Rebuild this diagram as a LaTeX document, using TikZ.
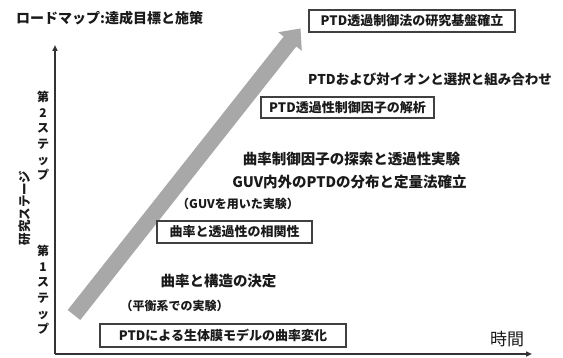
\documentclass[tikz,border=0pt]{standalone}
\usepackage{fontspec}
\setmainfont{Noto Sans CJK JP}
\usetikzlibrary{arrows.meta}
\definecolor{axisgray}{HTML}{333333}
\definecolor{arrowgray}{HTML}{A8A8A8}
\definecolor{boxline}{HTML}{404040}
\definecolor{txt}{HTML}{1A1A1A}
\begin{document}
\begin{tikzpicture}[x=1pt,y=-1pt,
  boxnode/.style={draw=boxline, fill=white, line width=1.1pt, inner sep=0pt, minimum height=22pt, text=txt, font=\bfseries\fontsize{13}{14}\selectfont},
  maintext/.style={text=txt, font=\bfseries\fontsize{14.5}{16}\selectfont},
  subtext/.style={text=txt, font=\bfseries\fontsize{12}{14}\selectfont},
  vlabel/.style={text=txt, align=center, font=\bfseries\fontsize{12}{15.6}\selectfont, inner sep=0pt},
  axisline/.style={draw=axisgray, line width=2pt, -{Triangle[length=6pt,width=5pt]}},
]
\useasboundingbox (0,0) rectangle (563,358);

% title
\node[anchor=west, text=txt, font=\bfseries\fontsize{14}{15}\selectfont, inner sep=0pt] (title) at (16,18) {ロードマップ:達成目標と施策};

% axes
\coordinate (origin) at (55,354);
\coordinate (ytop) at (55,45);
\coordinate (xend) at (532,354);
\draw[axisline] (origin) -- (ytop);
\draw[axisline] (origin) -- (xend);

% big gray arrow
\fill[arrowgray] (67.7,310) -- (283.7,36.5) -- (278.2,32.2) -- (300.5,28.5) -- (301.8,50.8) -- (296.3,46.5) -- (80.3,320) -- cycle;

% left labels
\node[vlabel] (step2) at (43,136) {第\\2\\ス\\テ\\ッ\\プ};
\node[vlabel] (step1) at (43,290) {第\\1\\ス\\テ\\ッ\\プ};
\node[text=txt, font=\bfseries\fontsize{12.5}{14}\selectfont, rotate=90, inner sep=0pt] (stage) at (25,208) {研究ステージ};

% boxes
\node[boxnode, minimum width=206pt] (goal) at (412,21) {PTD透過制御法の研究基盤確立};
\node[boxnode, minimum width=173pt, minimum height=21pt] (analysis) at (347.5,107.5) {PTD透過性制御因子の解析};
\node[boxnode, minimum width=155pt] (corr) at (234.5,232) {曲率と透過性の相関性};
\node[boxnode, minimum width=246pt, minimum height=23pt] (curv) at (223,335.5) {PTDによる生体膜モデルの曲率変化};

% texts
\node[maintext, font=\bfseries\fontsize{13.5}{16}\selectfont] (combo) at (430,79) {PTDおよび対イオンと選択と組み合わせ};
\node[maintext] (search) at (351.5,159) {曲率制御因子の探索と透過性実験};
\node[maintext] (guv) at (349.5,182) {GUV内外のPTDの分布と定量法確立};
\node[subtext] (guvexp) at (238,204) {（GUVを用いた実験）};
\node[maintext] (struct) at (218.5,281) {曲率と構造の決定};
\node[subtext] (eqexp) at (174.5,306) {（平衡系での実験）};
\node[text=txt, font=\fontsize{17}{19}\selectfont] (time) at (507,339) {時間};
\end{tikzpicture}
\end{document}
